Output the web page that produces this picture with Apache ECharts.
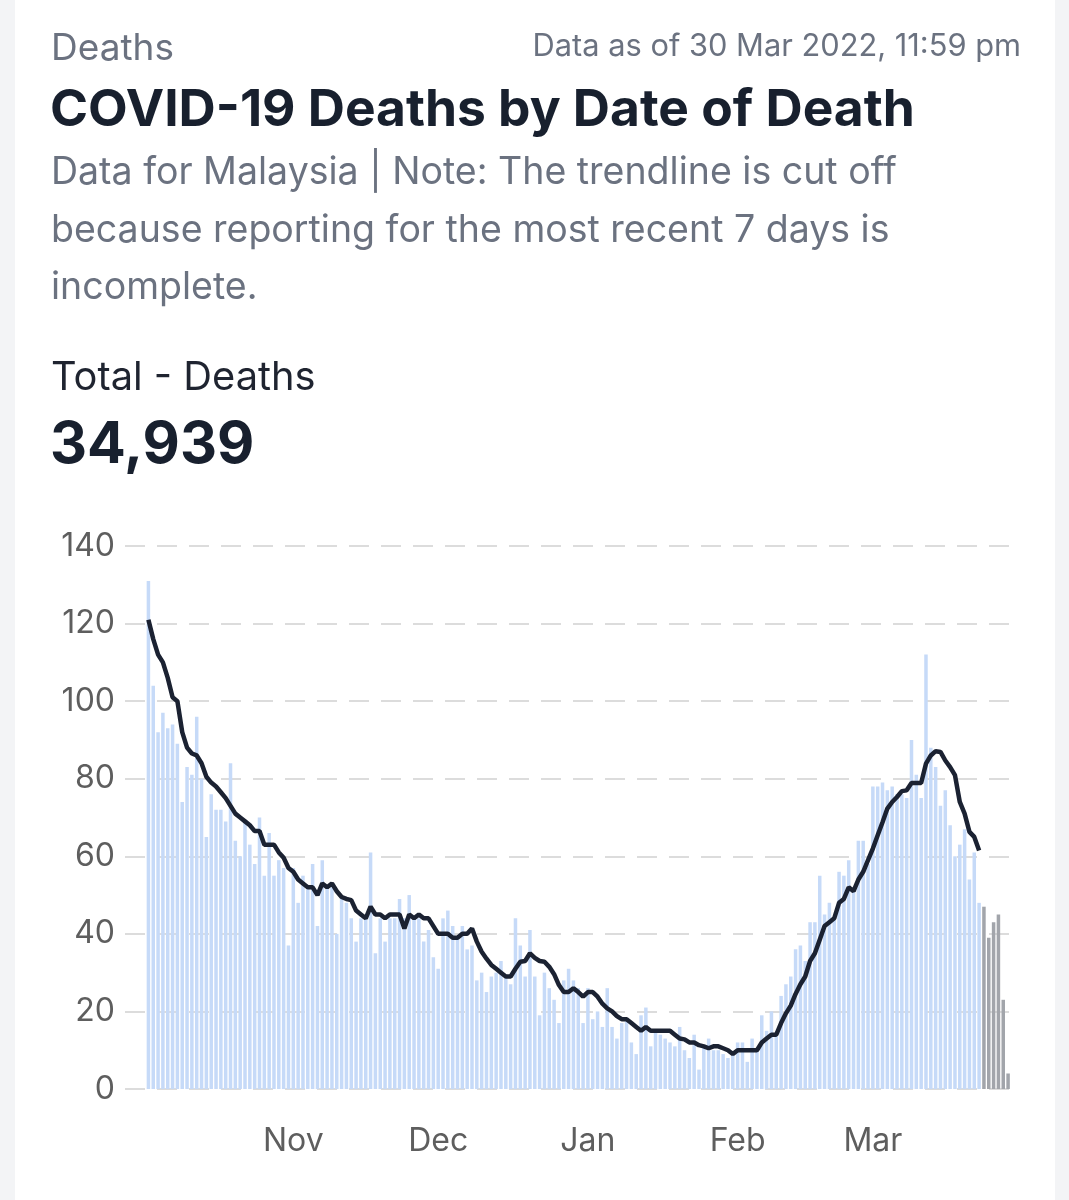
<!DOCTYPE html>
<html>
<head>
<meta charset="utf-8">
<script src="https://cdn.jsdelivr.net/npm/echarts@6/dist/echarts.min.js"></script>
<style>
  html, body { margin: 0; padding: 0; background: #f3f4f6; }
  .card { position: absolute; left: 15px; top: 0; width: 1040px; height: 1200px; background: #fff; }
  .txt { position: absolute; font-family: Inter, "Noto Sans", sans-serif; white-space: nowrap; }
  #chart { position: absolute; left: 0; top: 0; width: 1069px; height: 1200px; }
</style>
</head>
<body>
<div class="card"></div>
<div id="chart"></div>
<div class="txt" style="left:51px; top:26px; font-size:37px; line-height:42px; color:#6b7280;">Deaths</div>
<div class="txt" style="right:48px; top:26px; font-size:30.8px; line-height:38px; color:#6b7280;">Data as of 30 Mar 2022, 11:59 pm</div>
<div class="txt" style="left:50px; top:78px; font-size:51.5px; line-height:58px; color:#18202e; font-weight:700;">COVID-19 Deaths by Date of Death</div>
<div class="txt" style="left:51px; top:142px; font-size:37.5px; line-height:57.5px; color:#6b7280; white-space:normal; width:900px;">Data for Malaysia | Note: The trendline is cut off<br>because reporting for the most recent 7 days is<br>incomplete.</div>
<div class="txt" style="left:51px; top:353px; font-size:39.8px; line-height:46px; color:#1f2430;">Total - Deaths</div>
<div class="txt" style="left:50px; top:409px; font-size:57.5px; line-height:66px; color:#18202e; font-weight:700;">34,939</div>
<script>
// daily deaths by date of death, 2 Oct 2021 - 29 Mar 2022
const startDate = '2021-10-02'
const octDeaths = [131, 104, 92, 97, 93, 94, 89, 74, 83, 81, 96, 80, 65, 76, 72, 72, 69, 84, 64, 60, 69, 63, 58, 70, 55, 66, 55, 59, 57, 37]
const novDeaths = [57, 48, 55, 52, 58, 42, 59, 52, 52, 40, 49, 48, 44, 38, 44, 44, 61, 35, 44, 38, 44, 44, 49, 44, 50, 44, 44, 38, 41, 34]
const decDeaths = [31, 44, 46, 42, 39, 42, 36, 37, 28, 30, 25, 29, 30, 33, 29, 27, 44, 37, 29, 41, 29, 19, 30, 26, 23, 17, 28, 31, 28, 26, 17]
const janDeaths = [26, 18, 20, 16, 26, 16, 13, 17, 18, 12, 9, 19, 21, 11, 15, 14, 13, 12, 11, 16, 10, 8, 14, 5, 11, 13, 10, 10, 9, 8, 9]
const febDeaths = [12, 12, 7, 13, 10, 19, 15, 20, 14, 24, 27, 29, 36, 37, 33, 43, 43, 55, 45, 48, 44, 56, 55, 59, 52, 64, 64, 58]
const marDeaths = [78, 78, 79, 77, 78, 76, 76, 75, 90, 81, 75, 112, 88, 83, 73, 77, 68, 60, 63, 67, 54, 61, 48, 47, 39, 43, 45, 23, 4]

// 7-day trendline as drawn (stops before the incomplete days)
const octTrend = [121, 116, 112, 110, 106, 101, 100, 92, 88, 86.5, 86, 84, 80.5, 79, 78, 76.5, 75, 73, 71, 70, 69, 68, 66.5, 66.5, 63, 63, 63, 61, 59.6, 57]
const novTrend = [56, 54, 53, 52, 52, 50, 53, 52, 53, 51, 49.5, 49, 48.7, 46, 45, 44, 47, 45, 45, 44, 45, 45, 45, 41.4, 45, 44, 45, 44, 44, 42]
const decTrend = [40, 40, 40, 39, 39, 40, 40, 41.4, 38, 35.4, 33.6, 32, 31, 30, 29, 29, 31, 32.8, 33, 35, 33.8, 33, 32.8, 31.5, 29.6, 26.8, 25, 25, 26, 25, 23.8]
const janTrend = [25, 25, 23.8, 22, 20.8, 20, 18.8, 18, 18, 17, 16, 15, 16, 15, 15, 15, 15, 15, 14, 13, 12.8, 12, 12, 11.3, 11, 10.5, 11, 11, 10.5, 10, 9]
const febTrend = [10, 10, 10, 10, 10, 12, 13, 14, 14, 17, 19.5, 21.5, 24.5, 27, 29, 33, 35, 38.5, 42, 43, 44, 48, 49, 52, 51, 54, 56, 59]
const marTrend = [62, 65.4, 68.8, 72.3, 74, 75.3, 76.8, 77, 78.9, 78.9, 78.9, 83.9, 86, 87.1, 86.9, 84.7, 83, 80.9, 74, 71, 66.3, 65, 61.5]

const incompleteDays = 6
const yTicks = [0, 20, 40, 60, 80, 100, 120, 140]
const monthNames = ['Jan', 'Feb', 'Mar', 'Apr', 'May', 'Jun', 'Jul', 'Aug', 'Sep', 'Oct', 'Nov', 'Dec']

const deaths = [].concat(octDeaths, novDeaths, decDeaths, janDeaths, febDeaths, marDeaths)
const trend = [].concat(octTrend, novTrend, decTrend, janTrend, febTrend, marTrend)

// build date categories
let dates = []
let d = new Date(startDate + 'T00:00:00Z')
for (let i = 0; i < deaths.length; i++) {
  dates.push(d.toISOString().slice(0, 10))
  d.setUTCDate(d.getUTCDate() + 1)
}

const barData = deaths.map((v, i) => {
  if (i >= deaths.length - incompleteDays) {
    return { value: v, itemStyle: { color: '#a2a5ab' } }
  }
  return v
})

var myChart = echarts.init(document.getElementById('chart'))
let option = {
  animation: false,
  grid: [
    { left: 125, right: 54, top: 546, height: 543 },
    { left: 146, right: 58.5, top: 546, height: 543 }
  ],
  xAxis: [
    { gridIndex: 0, type: 'value', show: false, min: 0, max: 1 },
    {
      gridIndex: 1,
      type: 'category',
      data: dates,
      boundaryGap: true,
      axisLine: { show: false },
      axisTick: { show: false },
      axisLabel: {
        interval: function (index, value) {
          return value.slice(8) === '01' && index > 0
        },
        formatter: function (value) {
          return monthNames[parseInt(value.slice(5, 7)) - 1]
        },
        margin: 36,
        fontSize: 32,
        color: '#5e5e5e',
        fontFamily: 'Inter'
      }
    }
  ],
  yAxis: [
    {
      gridIndex: 0,
      type: 'value',
      min: yTicks[0],
      max: yTicks[yTicks.length - 1],
      interval: yTicks[1] - yTicks[0],
      axisLine: { show: false },
      axisTick: { show: false },
      axisLabel: { margin: 10, fontSize: 32, color: '#5e5e5e', fontFamily: 'Inter' },
      splitLine: { lineStyle: { color: '#dcdcdc', width: 2, type: [20, 12] } }
    },
    {
      gridIndex: 1,
      type: 'value',
      min: yTicks[0],
      max: yTicks[yTicks.length - 1],
      show: false,
      splitLine: { show: false }
    }
  ],
  series: [
    {
      name: 'Deaths',
      type: 'bar',
      xAxisIndex: 1,
      yAxisIndex: 1,
      data: barData,
      barWidth: 3.5,
      itemStyle: { color: '#c6daf8' }
    },
    {
      name: 'Trend',
      type: 'line',
      xAxisIndex: 1,
      yAxisIndex: 1,
      data: trend,
      symbol: 'none',
      lineStyle: { color: '#1b2232', width: 4.5 },
      z: 5
    }
  ]
}
myChart.setOption(option)
</script>
</body>
</html>
